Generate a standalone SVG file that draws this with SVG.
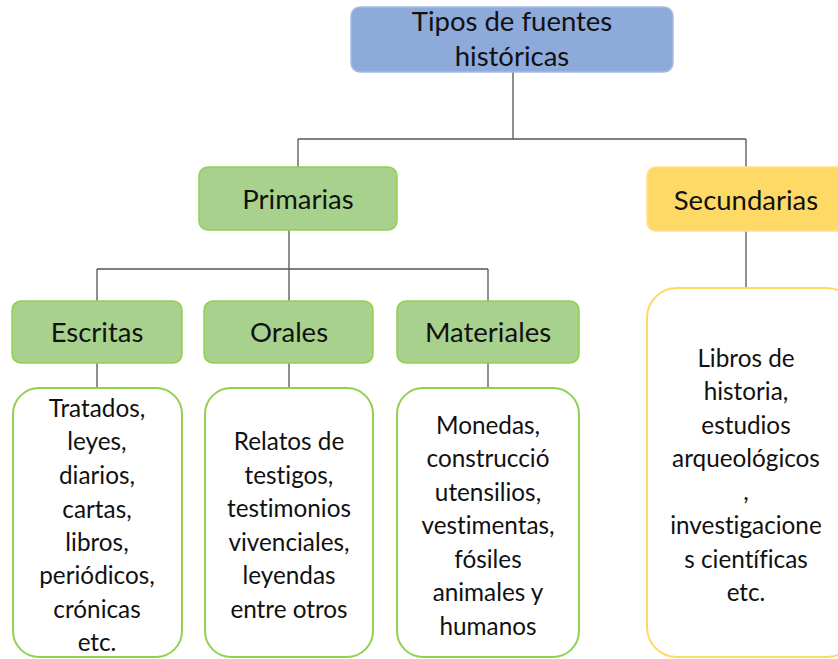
<svg xmlns="http://www.w3.org/2000/svg" width="838" height="659" viewBox="0 0 838 659">
<style>
text{font-family:Lato,"Liberation Sans",sans-serif;fill:#111;text-anchor:middle;font-variant-ligatures:none}
.h{font-size:27.5px}
.c{font-size:24.3px}
.blue{fill:#8eaadb;stroke:#a4bce4;stroke-width:1.5}
.green{fill:#a9d18e;stroke:#92d050;stroke-width:1.5}
.yellow{fill:#ffd966;stroke:#ffe08a;stroke-width:1.5}
.gbox{fill:#fff;stroke:#92d050;stroke-width:2}
.ybox{fill:#fff;stroke:#ffd966;stroke-width:2}
.ln{stroke:#555;stroke-width:1.3;fill:none}
</style>
<g id="connectors">
<path class="ln" d="M513 72V139M298 139H746M298 139V167M746 139V167"/>
<path class="ln" d="M289 230V269M97 269H488M97 269V301M289 269V301M488 269V301"/>
<path class="ln" d="M97 363V388M289 363V388M488 363V388M746 231V288"/>
</g>
<g id="root">
<rect class="blue" x="351" y="7" width="322" height="65" rx="9"/>
<text class="h" x="512" y="31">Tipos de fuentes</text>
<text class="h" x="512" y="66">históricas</text>
</g>
<g id="primarias">
<rect class="green" x="199" y="167" width="198" height="63" rx="9"/>
<text class="h" x="298" y="209">Primarias</text>
</g>
<g id="secundarias">
<rect class="yellow" x="647" y="167" width="210" height="64" rx="9"/>
<text class="h" x="746" y="210">Secundarias</text>
</g>
<g id="escritas">
<rect class="green" x="12" y="301" width="170" height="62" rx="9"/>
<text class="h" x="97" y="342">Escritas</text>
</g>
<g id="orales">
<rect class="green" x="204" y="301" width="169" height="62" rx="9"/>
<text class="h" x="289" y="342">Orales</text>
</g>
<g id="materiales">
<rect class="green" x="397" y="301" width="182" height="62" rx="9"/>
<text class="h" x="488" y="342">Materiales</text>
</g>
<g id="escritas-content">
<rect class="gbox" x="13" y="388" width="169" height="269" rx="26"/>
<text class="c" x="97"><tspan x="97" y="417">Tratados,</tspan><tspan x="97" y="450">leyes,</tspan><tspan x="97" y="484">diarios,</tspan><tspan x="97" y="518">cartas,</tspan><tspan x="97" y="551">libros,</tspan><tspan x="97" y="584">periódicos,</tspan><tspan x="97" y="618">crónicas</tspan><tspan x="97" y="651">etc.</tspan></text>
</g>
<g id="orales-content">
<rect class="gbox" x="205" y="388" width="168" height="269" rx="26"/>
<text class="c" x="289"><tspan x="289" y="450">Relatos de</tspan><tspan x="289" y="484">testigos,</tspan><tspan x="289" y="517">testimonios</tspan><tspan x="289" y="551">vivenciales,</tspan><tspan x="289" y="584">leyendas</tspan><tspan x="289" y="618">entre otros</tspan></text>
</g>
<g id="materiales-content">
<rect class="gbox" x="397" y="388" width="182" height="269" rx="26"/>
<text class="c" x="488"><tspan x="488" y="434">Monedas,</tspan><tspan x="488" y="467">construcció</tspan><tspan x="488" y="501">utensilios,</tspan><tspan x="488" y="534">vestimentas,</tspan><tspan x="488" y="568">fósiles</tspan><tspan x="488" y="601">animales y</tspan><tspan x="488" y="635">humanos</tspan></text>
</g>
<g id="secundarias-content">
<rect class="ybox" x="647" y="288" width="210" height="369" rx="30"/>
<text class="c" x="746"><tspan x="746" y="367">Libros de</tspan><tspan x="746" y="400">historia,</tspan><tspan x="746" y="434">estudios</tspan><tspan x="746" y="467">arqueológicos</tspan><tspan x="746" y="500">,</tspan><tspan x="746" y="534">investigacione</tspan><tspan x="746" y="568">s científicas</tspan><tspan x="746" y="601">etc.</tspan></text>
</g>
</svg>
